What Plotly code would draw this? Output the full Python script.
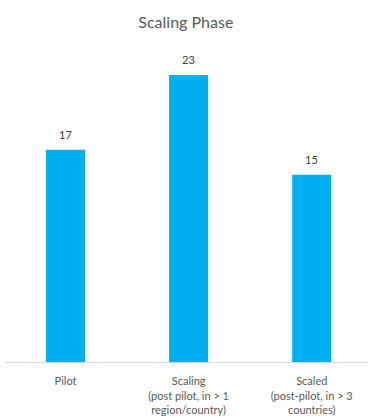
import plotly.graph_objects as go

categories = ["Pilot", "Scaling<br>(post pilot, in > 1<br>region/country)", "Scaled<br>(post-pilot, in > 3<br>countries)"]
values = [17, 23, 15]
positions = [0, 1, 2]

fig = go.Figure()
fig.add_trace(go.Bar(
    x=positions, y=values, width=0.317,
    marker=dict(color="#00B0F0", line=dict(width=0)),
    cliponaxis=False,
))
for p, v in zip(positions, values):
    fig.add_annotation(x=p, y=v, text=str(v), showarrow=False, yanchor="bottom", yshift=7,
                       font=dict(family="Lato", size=11, color="#404040"))
fig.update_layout(
    width=368, height=417,
    margin=dict(l=5, r=0, t=50, b=55),
    paper_bgcolor="white", plot_bgcolor="white",
    title=dict(text="Scaling Phase", x=0.505, xanchor="center", y=0.947, yanchor="middle",
               font=dict(family="Lato", size=16, color="#595959")),
    showlegend=False,
    xaxis=dict(range=[-0.4915, 2.457], tickmode="array", tickvals=positions, ticktext=categories,
               showgrid=False, zeroline=False, showline=True, linecolor="#D9D9D9", linewidth=1,
               ticks="", ticklabelstandoff=9, tickfont=dict(family="Lato", size=11, color="#595959")),
    yaxis=dict(range=[0, 25], visible=False),
    font=dict(family="Lato"),
)
fig.write_html("out.html")
